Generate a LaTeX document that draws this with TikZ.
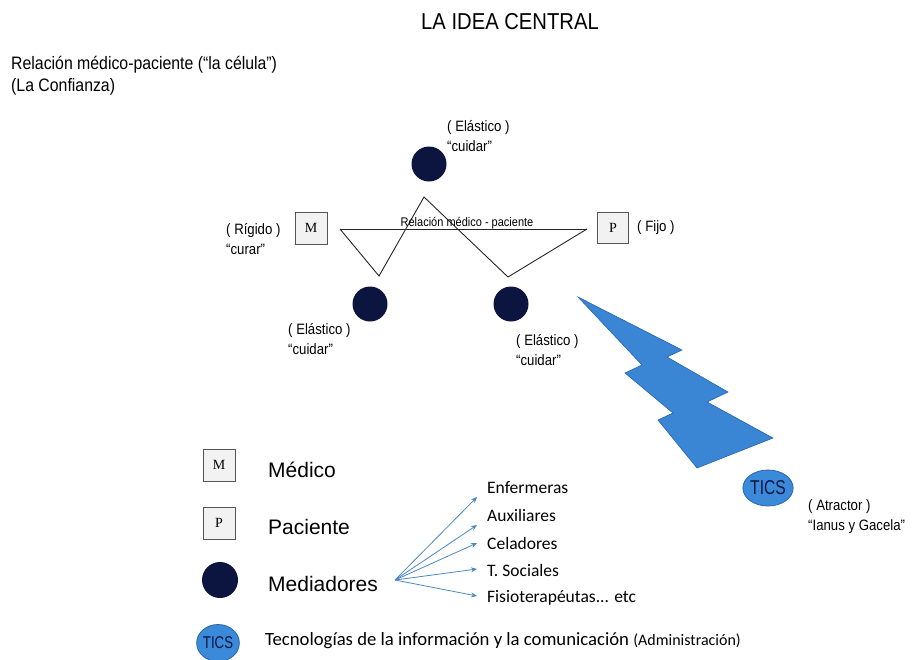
\documentclass[tikz,border=0pt]{standalone}
\usepackage{fontspec}
\usetikzlibrary{arrows.meta,shapes.geometric}
\newfontfamily\arialn[FakeStretch=0.88]{Liberation Sans}
\newfontfamily\arialc[FakeStretch=0.78]{Liberation Sans}
\newfontfamily\arialf{Liberation Sans}
\newfontfamily\calib{Carlito}
\newfontfamily\timesr{Liberation Serif}
\definecolor{navy}{HTML}{0B1540}
\definecolor{boxfill}{HTML}{F2F2F2}
\definecolor{boxline}{HTML}{555555}
\definecolor{ticsblue}{HTML}{3B8AD9}
\definecolor{ticsline}{HTML}{2466A8}
\definecolor{boltblue}{HTML}{3A86D5}
\definecolor{arrowblue}{HTML}{4A88C4}
\tikzset{
  med/.style={circle,fill=navy,minimum size=35pt,inner sep=0pt},
  legmed/.style={circle,fill=navy,minimum size=36pt,inner sep=0pt},
  sqbox/.style={draw=boxline,fill=boxfill,line width=0.8pt,minimum size=32pt,inner sep=0pt,font=\timesr\fontsize{14}{14}\selectfont},
  tics/.style={ellipse,draw=ticsline,fill=ticsblue,line width=0.8pt,inner sep=0pt,text=navy},
  lbl/.style={anchor=west,inner sep=0pt,align=left,font=\arialn\fontsize{15}{20}\selectfont},
  leg/.style={anchor=west,inner sep=0pt,font=\arialf\fontsize{21}{24}\selectfont},
  cal/.style={anchor=west,inner sep=0pt,font=\calib\fontsize{17.5}{20}\selectfont},
  zig/.style={draw=black!85,line width=0.9pt},
  med arrow/.style={draw=arrowblue,line width=0.8pt,-{Stealth[length=6pt,width=5pt]}}
}
\begin{document}
\begin{tikzpicture}[x=1pt,y=-1pt]
\useasboundingbox (0,0) rectangle (912,659);

% title
\node[inner sep=0pt,font=\arialn\fontsize{23}{26}\selectfont] (title) at (510,22) {LA IDEA CENTRAL};
\node[anchor=west,inner sep=0pt,align=left,font=\arialn\fontsize{18}{22}\selectfont] (rel) at (11,76) {Relación médico-paciente (“la célula”)\\(La Confianza)};

% central figure
\node[med] (ctop) at (429,164) {};
\node[med] (cbl) at (370,304) {};
\node[med] (cbr) at (511,304) {};
\node[sqbox] (M) at (311,228) {M};
\node[sqbox,minimum size=31pt] (P) at (613,228) {P};

\coordinate (zl) at (340,229);
\coordinate (zr) at (587,229);
\coordinate (v1) at (379,276);
\coordinate (v2) at (424,197);
\coordinate (v3) at (508,277);
\draw[zig] (zl) -- (zr);
\draw[zig,line join=miter] (zl) -- (v1) -- (v2) -- (v3) -- (zr);
\node[inner sep=0pt,font=\arialn\fontsize{12.5}{14}\selectfont] (rmp) at (467,223) {Relación médico - paciente};

\node[lbl] (ltop) at (447,136) {( Elástico )\\“cuidar”};
\node[lbl] (lM) at (226,239) {( Rígido )\\“curar”};
\node[lbl] (lP) at (637,228) {( Fijo )};
\node[lbl] (lbl1) at (288,339) {( Elástico )\\“cuidar”};
\node[lbl] (lbl2) at (516,350) {( Elástico )\\“cuidar”};

% lightning bolt
\filldraw[fill=boltblue,draw=ticsline,line width=0.6pt,line join=miter]
  (578,297) -- (682,350) -- (667,357) -- (728,392) -- (707,402) -- (773,438)
  -- (697,468) -- (658,420) -- (673,413) -- (625,373) -- (642,365) -- cycle;

\node[tics,minimum width=50pt,minimum height=36pt,font=\arialc\fontsize{20}{20}\selectfont] (tics) at (768,488) {TICS};
\node[lbl] (latr) at (808,517) {( Atractor )\\“Ianus y Gacela”};

% legend
\node[sqbox] (lgM) at (219,465) {M};
\node[leg] (tM) at (268,470) {Médico};
\node[sqbox] (lgP) at (219,523) {P};
\node[leg] (tP) at (268,527) {Paciente};
\node[legmed] (lgC) at (220,580) {};
\node[leg] (tC) at (268,584) {Mediadores};

\coordinate (src) at (395,580);
\node[cal] (e1) at (487,488) {Enfermeras};
\node[cal] (e2) at (487,515) {Auxiliares};
\node[cal] (e3) at (487,543) {Celadores};
\node[cal] (e4) at (487,570) {T. Sociales};
\node[cal] (e5) at (487,598) {Fisioterapéutas... etc};
\draw[med arrow] (src) -- ([shift={(-10,9)}]e1.west);
\draw[med arrow] (src) -- ([shift={(-10,10)}]e2.west);
\draw[med arrow] (src) -- ([shift={(-10,0)}]e3.west);
\draw[med arrow] (src) -- ([shift={(-10,-1)}]e4.west);
\draw[med arrow] (src) -- ([shift={(-10,-2)}]e5.west);

\node[tics,minimum width=35pt,minimum height=37pt,font=\arialc\fontsize{17}{17}\selectfont] (lgT) at (218,643) {TICS};
\node[cal,font=\calib\fontsize{18.7}{20}\selectfont] (tT) at (265,641) {Tecnologías de la información y la comunicación {\fontsize{16}{16}\selectfont(Administración)}};
\end{tikzpicture}
\end{document}
